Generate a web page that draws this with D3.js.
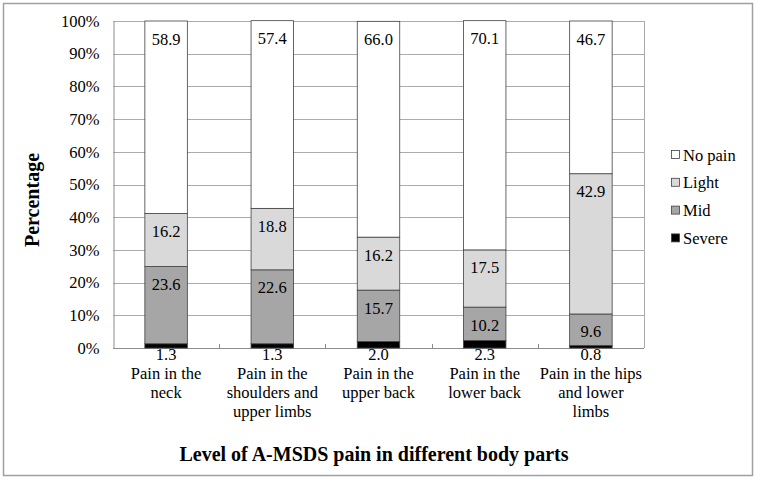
<!DOCTYPE html>
<html>
<head>
  <title>A-MSDS pain by body part</title>
  <script src="https://d3js.org/d3.v7.min.js"></script>
  <style>
    body { margin: 0; background: #fff; }
    svg text { font-family: "Liberation Serif", "DejaVu Serif", serif !important; fill: #000; }
  </style>
</head>
<body>
<div id="chart"></div>
<script>
// Data
var categories = [
  ["Pain in the", "neck"],
  ["Pain in the", "shoulders and", "upper limbs"],
  ["Pain in the", "upper back"],
  ["Pain in the", "lower back"],
  ["Pain in the hips", "and lower", "limbs"]
];
var seriesNames = ["Severe", "Mid", "Light", "No pain"];
var severe = [1.3, 1.3, 2.0, 2.3, 0.8];
var mid = [23.6, 22.6, 15.7, 10.2, 9.6];
var light = [16.2, 18.8, 16.2, 17.5, 42.9];
var noPain = [58.9, 57.4, 66.0, 70.1, 46.7];
var yTicks = [0, 10, 20, 30, 40, 50, 60, 70, 80, 90, 100];

var colors = { "Severe": "#000000", "Mid": "#a6a6a6", "Light": "#d9d9d9", "No pain": "#ffffff" };

var width = 757, height = 479;
var plot = { left: 113, right: 644, top: 21, bottom: 348 };
var serif = "'Liberation Serif', 'DejaVu Serif', serif";

// build rows for d3.stack
var rows = categories.map(function(c, i) {
  return { idx: i, "Severe": severe[i], "Mid": mid[i], "Light": light[i], "No pain": noPain[i] };
});
var stacked = d3.stack().keys(seriesNames)(rows);

var svg = d3.select("#chart").append("svg")
  .attr("width", width)
  .attr("height", height)
  .attr("font-family", serif);

// outer frame
svg.append("rect")
  .attr("x", 3.5).attr("y", 3.5)
  .attr("width", 749).attr("height", 472)
  .attr("fill", "#fff")
  .attr("stroke", "#a0a0a0")
  .attr("stroke-width", 1.5);

var x = d3.scaleBand()
  .domain(d3.range(categories.length))
  .range([plot.left, plot.right])
  .paddingInner(0.6)
  .paddingOuter(0.3);

var y = d3.scaleLinear()
  .domain([0, 100])
  .range([plot.bottom, plot.top]);

// gridlines
svg.append("g")
  .selectAll("line")
  .data(yTicks.slice(1))
  .enter().append("line")
  .attr("x1", plot.left).attr("x2", plot.right)
  .attr("y1", function(d) { return Math.round(y(d)) + 0.5; })
  .attr("y2", function(d) { return Math.round(y(d)) + 0.5; })
  .attr("stroke", "#ababab")
  .attr("stroke-width", 1);

// right border of plot area
svg.append("line")
  .attr("x1", plot.right + 0.5).attr("x2", plot.right + 0.5)
  .attr("y1", plot.top).attr("y2", plot.bottom)
  .attr("stroke", "#ababab");

// y axis
var yAxis = d3.axisLeft(y)
  .tickValues(yTicks)
  .tickSize(0)
  .tickPadding(14)
  .tickFormat(function(d) { return d + "%"; });

var yG = svg.append("g")
  .attr("transform", "translate(" + (plot.left + 0.5) + ",0)")
  .call(yAxis)
  .attr("font-family", serif)
  .attr("font-size", "16.5px");
yG.select(".domain").attr("stroke", "#8c8c8c");

// x axis (ticks between categories, pointing inward)
var xAxisG = svg.append("g");
xAxisG.append("line")
  .attr("x1", plot.left).attr("x2", plot.right)
  .attr("y1", plot.bottom + 0.5).attr("y2", plot.bottom + 0.5)
  .attr("stroke", "#8c8c8c");
xAxisG.selectAll(".tk")
  .data(d3.range(1, categories.length))
  .enter().append("line")
  .attr("class", "tk")
  .attr("x1", function(d) { return Math.round(x(d) - x.step() * x.paddingInner() / 2) + 0.5; })
  .attr("x2", function(d) { return Math.round(x(d) - x.step() * x.paddingInner() / 2) + 0.5; })
  .attr("y1", plot.bottom - 4).attr("y2", plot.bottom)
  .attr("stroke", "#8c8c8c");

// bars
var layers = svg.append("g")
  .selectAll("g")
  .data(stacked)
  .enter().append("g")
  .attr("fill", function(d) { return colors[d.key]; });

layers.selectAll("rect")
  .data(function(d) { return d; })
  .enter().append("rect")
  .attr("x", function(d) { return x(d.data.idx); })
  .attr("y", function(d) { return y(d[1]); })
  .attr("width", x.bandwidth())
  .attr("height", function(d) { return y(d[0]) - y(d[1]); })
  .attr("stroke", "#404040")
  .attr("stroke-width", 0.8);

// value labels: inside end, except Severe below the axis
stacked.forEach(function(layer) {
  svg.append("g").selectAll("text")
    .data(layer)
    .enter().append("text")
    .attr("x", function(d) { return x(d.data.idx) + x.bandwidth() / 2; })
    .attr("y", function(d) {
      if (layer.key === "Severe") return plot.bottom + 12;
      return y(d[1]) + 23.5;
    })
    .attr("text-anchor", "middle")
    .style("font-size", "16.5px")
    .text(function(d) { return d.data[layer.key].toFixed(1); });
});

// category labels
svg.append("g").selectAll("text")
  .data(categories)
  .enter().append("text")
  .attr("text-anchor", "middle")
  .style("font-size", "16.5px")
  .attr("x", function(d, i) { return x(i) + x.bandwidth() / 2; })
  .attr("y", 379)
  .each(function(lines) {
    var t = d3.select(this);
    var cx = t.attr("x");
    lines.forEach(function(line, j) {
      t.append("tspan").attr("x", cx).attr("dy", j === 0 ? 0 : 19).text(line);
    });
  });

// legend
var legendItems = seriesNames.slice().reverse();
var legend = svg.append("g").selectAll("g")
  .data(legendItems)
  .enter().append("g")
  .attr("transform", function(d, i) { return "translate(671," + (155 + i * 27.8) + ")"; });
legend.append("rect")
  .attr("x", 0.5).attr("y", -4.5)
  .attr("width", 8).attr("height", 8)
  .attr("fill", function(d) { return colors[d]; })
  .attr("stroke", "#404040")
  .attr("stroke-width", 0.8);
legend.append("text")
  .attr("x", 12).attr("y", 5.5)
  .style("font-size", "16.5px")
  .text(function(d) { return d; });

// axis titles
svg.append("text")
  .attr("transform", "translate(39,200) rotate(-90)")
  .attr("text-anchor", "middle")
  .style("font-size", "20px")
  .style("font-weight", "bold")
  .text("Percentage");

svg.append("text")
  .attr("x", 374).attr("y", 461)
  .attr("text-anchor", "middle")
  .style("font-size", "20px")
  .style("font-weight", "bold")
  .text("Level of A-MSDS pain in different body parts");
</script>
</body>
</html>
